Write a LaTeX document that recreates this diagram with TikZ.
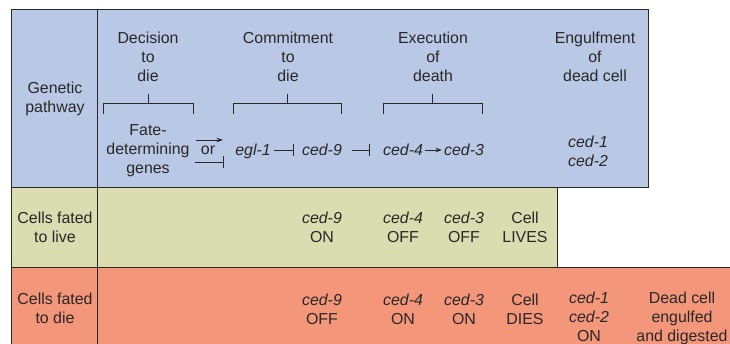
\documentclass[tikz,border=0pt]{standalone}
\usepackage{fontspec}
\setmainfont{Liberation Sans}
\usetikzlibrary{arrows.meta,positioning,calc}
\definecolor{pathblue}{RGB}{185,200,228}
\definecolor{livegreen}{RGB}{217,221,175}
\definecolor{diered}{RGB}{244,150,122}
\definecolor{ink}{RGB}{40,40,40}

\begin{document}
\begin{tikzpicture}[x=1pt, y=-1pt,
  txt/.style={align=center, text=ink, inner sep=0pt, font=\fontsize{15.9}{19}\selectfont},
  gtxt/.style={txt, font=\fontsize{15.9}{19}\selectfont\itshape},
  gene/.style={gtxt, text height=11pt, text depth=0pt, inner sep=2pt},
  frame/.style={draw=ink, line width=1pt},
  act/.style={draw=ink, line width=0.9pt, -{Stealth[length=6.5pt, width=4.5pt]}},
  inh/.style={draw=ink, line width=0.9pt, -{Bar[width=12pt, line width=0.9pt]}}]
  \useasboundingbox (0,0) rectangle (730,344);

  % rows
  \fill[pathblue] (11,10) rectangle (648,188);
  \fill[livegreen] (11,188) rectangle (557,268);
  \fill[diered] (11,268) rectangle (730,344);
  \draw[frame] (11,344) -- (11,10) -- (648,10) -- (648,188) -- (11,188);
  \draw[frame] (557,188) -- (557,268);
  \draw[frame] (11,268) -- (730,268);
  \draw[frame] (97,10) -- (97,344);

  % genetic pathway
  \node (gp) [txt] at (55,99) {Genetic\\pathway};
  \node (dec) [txt] at (148,57) {Decision\\to\\die};
  \node (com) [txt] at (288,57) {Commitment\\to\\die};
  \node (exe) [txt] at (433,57) {Execution\\of\\death};
  \node (eng) [txt] at (595,57) {Engulfment\\of\\dead cell};

  \foreach \l/\m/\r in {103/148/193, 233/287/341, 383/432/482}
    \draw[draw=ink, line width=0.9pt] (\l,114) |- (\r,103) -- (\r,114) (\m,103) -- (\m,94);

  \node (fate) [txt] at (148,151) {Fate-\\determining\\genes};
  \node (or) [txt] at (208,150) {or};
  \node (egl1) [gene] at (253,150) {egl-1};
  \node (ced9) [gene] at (322,150) {ced-9};
  \node (ced4) [gene] at (403,150) {ced-4};
  \node (ced3) [gene] at (464,150) {ced-3};
  \node (ced12) [gtxt] at (588,151) {ced-1\\ced-2};

  \coordinate (orA) at (196,140);
  \coordinate (orB) at (223,140);
  \coordinate (orC) at (195,162);
  \coordinate (orD) at (224,162);
  \draw[act] (orA) -- (orB);
  \draw[inh] (orC) -- (orD);

  \draw[inh, shorten <=1.5pt, shorten >=6.5pt] (egl1) -- (ced9);
  \draw[inh, shorten <=7.5pt, shorten >=11.5pt] (ced9) -- (ced4);
  \draw[act] (ced4) -- (ced3);

  % cells fated to live
  \node (live) [txt] at (55,227.5) {Cells fated\\to live};
  \node (l9) [txt] at (322,227.5) {\textit{ced-9}\\ON};
  \node (l4) [txt] at (403,227.5) {\textit{ced-4}\\OFF};
  \node (l3) [txt] at (464,227.5) {\textit{ced-3}\\OFF};
  \node (lcell) [txt] at (525,227.5) {Cell\\LIVES};

  % cells fated to die
  \node (die) [txt] at (55,308.5) {Cells fated\\to die};
  \node (d9) [txt] at (322,309) {\textit{ced-9}\\OFF};
  \node (d4) [txt] at (403,309) {\textit{ced-4}\\ON};
  \node (d3) [txt] at (464,309) {\textit{ced-3}\\ON};
  \node (dcell) [txt] at (525,309) {Cell\\DIES};
  \node (d12) [txt] at (589,317) {\textit{ced-1}\\\textit{ced-2}\\ON};
  \node (dgone) [txt] at (682,318) {Dead cell\\engulfed\\and digested};
\end{tikzpicture}
\end{document}
